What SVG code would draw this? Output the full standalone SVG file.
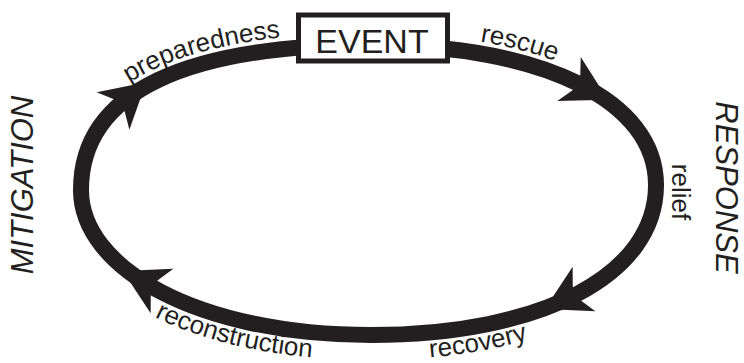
<svg xmlns="http://www.w3.org/2000/svg" width="744" height="363" viewBox="0 0 744 363">
<style>
.ring{fill:none;stroke:#231f20;stroke-width:16}
.head{fill:#231f20}
.lbl{font-family:"Liberation Sans",Arial,sans-serif;font-size:26px;fill:#231f20}
.phase{font-family:"Liberation Sans",Arial,sans-serif;font-size:31px;font-style:italic;fill:#231f20}
.box{fill:#fff;stroke:#231f20;stroke-width:5}
.ev{font-family:"Liberation Sans",Arial,sans-serif;font-size:34px;fill:#231f20}
</style>
<defs>
<path id="ah" d="M44,0 L0,-25 L9,-7 L9,7 L0,25 Z"/>
<path id="tl" d="M69,190 C69,83 183,33 371,33"/>
<path id="tr" d="M371,33 C551,33 668,93.8 668,185"/>
<path id="bot" d="M56,190 C56,285 182,360 371,360 C557,360 681,290 681,185"/>
</defs>
<g id="connectors">
<path class="ring" d="M371,45 C543.8,45 656,101 656,185 C656,275 542,335 371,335 C197,335 81,268 81,190 C81,90 190,45 371,45 Z"/>
<use href="#ah" class="head" transform="translate(113,111) rotate(-41)"/>
<use href="#ah" class="head" transform="translate(569,79) rotate(28)"/>
<use href="#ah" class="head" transform="translate(584,289) rotate(153)"/>
<use href="#ah" class="head" transform="translate(162,291) rotate(207)"/>
<text class="lbl"><textPath href="#tl" startOffset="55%" text-anchor="middle">preparedness</textPath></text>
<text class="lbl"><textPath href="#tr" startOffset="40.5%" text-anchor="middle">rescue</textPath></text>
<text class="lbl"><textPath href="#bot" startOffset="32%" text-anchor="middle">reconstruction</textPath></text>
<text class="lbl"><textPath href="#bot" startOffset="63.8%" text-anchor="middle">recovery</textPath></text>
<text class="lbl" transform="translate(672,192) rotate(90)" text-anchor="middle">relief</text>
</g>
<g id="event">
<rect class="box" x="298.5" y="15" width="149" height="46"/>
<text class="ev" x="372" y="53" text-anchor="middle">EVENT</text>
</g>
<g id="mitigation">
<text class="phase" transform="translate(33,185) rotate(-90)" text-anchor="middle">MITIGATION</text>
</g>
<g id="response">
<text class="phase" transform="translate(716,187.5) rotate(90)" text-anchor="middle">RESPONSE</text>
</g>
</svg>
